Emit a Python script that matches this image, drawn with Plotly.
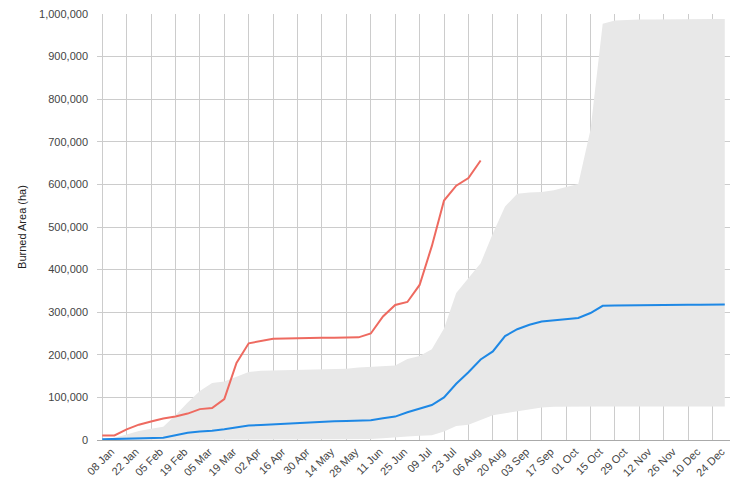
import pandas as pd
import plotly.graph_objects as go

# weekly points, 08 Jan .. 31 Dec
weeks = pd.date_range("2019-01-08", periods=52, freq="7D")

# current year cumulative burned area (ha), ends mid Aug
current = [10800, 10800, 25000, 36000, 43500, 50500, 55000, 62000, 72500, 75000,
           96000, 181000, 227000, 231500, 237500, 238000, 239000, 239500, 240000, 240000,
           240500, 241000, 250000, 290000, 317000, 324000, 364000, 455000, 562000, 597000,
           615000, 656000]

# mean of previous years
mean = [1500, 2300, 3200, 4200, 5000, 5500, 11000, 17000, 20000, 21500,
        25000, 29000, 34000, 35500, 37000, 39000, 40000, 41500, 42500, 44000,
        44700, 45500, 46500, 51000, 55000, 65000, 73500, 82000, 100000, 132000,
        159000, 189000, 208000, 244000, 260000, 270500, 278000, 281000, 284000, 286500,
        298000, 315000, 316000, 316500, 317000, 317000, 317000, 317000, 317500, 317500,
        317500, 318000]

# min / max range of previous years
upper = [1500, 5000, 13000, 21000, 26500, 31000, 58000, 88000, 115000, 134000,
         137600, 148000, 159600, 162700, 163500, 164000, 164500, 165000, 165500, 166000,
         167000, 170000, 172000, 173000, 175000, 190000, 197000, 213000, 262000, 345000,
         380000, 415000, 485000, 548000, 578000, 581000, 582000, 586000, 594000, 601000,
         728000, 977000, 985000, 986500, 987000, 987000, 987500, 987500, 988000, 988000,
         988000, 988000]
lower = [0, 0, 0, 0, 0, 0, 0, 0, 0, 0,
         0, 0, 0, 0, 1000, 1000, 1500, 1500, 1500, 2000,
         2000, 2000, 2500, 4000, 7000, 8500, 10000, 11000, 20000, 33000,
         36000, 47000, 58000, 63000, 67000, 72000, 76000, 78000, 78500, 78500,
         78500, 78500, 78500, 78500, 78500, 78500, 78500, 78500, 78500, 78500,
         78500, 78500]

fig = go.Figure()
fig.add_trace(go.Scatter(x=weeks, y=lower, mode='lines', line=dict(width=0),
                         showlegend=False, hoverinfo='skip'))
fig.add_trace(go.Scatter(x=weeks, y=upper, mode='lines', line=dict(width=0),
                         fill='tonexty', fillcolor='#e8e8e8',
                         showlegend=False, hoverinfo='skip'))
fig.add_trace(go.Scatter(x=weeks, y=mean, mode='lines',
                         line=dict(color='#1e88e5', width=2), showlegend=False))
fig.add_trace(go.Scatter(x=weeks[:len(current)], y=current, mode='lines',
                         line=dict(color='#ee6a60', width=2), showlegend=False))

# page body has an 8px margin, so the figure is sized a bit smaller
fig.update_layout(
    width=738, height=482,
    margin=dict(l=89, r=16, t=6, b=50),
    paper_bgcolor='white', plot_bgcolor='white',
    font=dict(family='Arial, Liberation Sans, sans-serif', size=11, color='#444'),
)
fig.update_xaxes(
    range=['2019-01-05', '2020-01-03'],
    tick0='2019-01-08', dtick=14 * 86400000,
    tickformat='%d %b', tickangle=-45,
    showgrid=True, gridcolor='#cccccc', gridwidth=1,
    showline=True, linecolor='#aaaaaa',
    ticks='', ticklabelshift=9, tickfont=dict(size=11, color='#444'),
    ticklabeloverflow='allow', automargin=False,
)
fig.update_yaxes(
    range=[0, 1000000], dtick=100000, tickformat=',d',
    showgrid=True, gridcolor='#cccccc', zeroline=False,
    ticks='', ticklabelstandoff=8, tickfont=dict(size=11, color='#444'),
    title=dict(text='Burned Area (ha)', font=dict(size=11, color='#222'), standoff=10),
    ticklabeloverflow='allow', automargin=False,
)

fig.write_html("out.html")
